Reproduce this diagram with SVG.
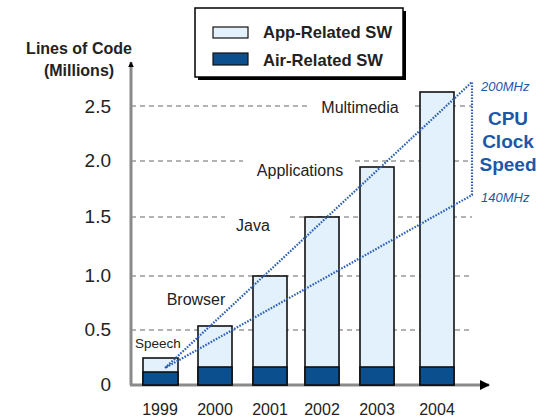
<svg xmlns="http://www.w3.org/2000/svg" width="550" height="417" viewBox="0 0 550 417">
<style>
text{font-family:"Liberation Sans",Arial,sans-serif;fill:#222}
.grid{stroke:#9a9a9a;stroke-width:1.3;stroke-dasharray:5 4;fill:none}
.app{fill:#e3f1fc;stroke:#111;stroke-width:1.6}
.air{fill:#0b4f8f;stroke:#111;stroke-width:1.6}
.tick{font-size:19px;text-anchor:end}
.yr{font-size:16px;text-anchor:middle}
.lbl{font-size:16px;text-anchor:middle}
.cpu{stroke:#2a5fb5;stroke-width:2.2;stroke-dasharray:1.6 1.4;fill:none}
.blue{fill:#1b59a8;font-weight:bold;font-size:19px;text-anchor:middle}
.mhz{fill:#1b59a8;font-style:italic;font-size:13px}
</style>
<defs>
<marker id="ah" viewBox="0 0 10 10" refX="9" refY="5" markerWidth="6" markerHeight="6" orient="auto" markerUnits="userSpaceOnUse">
<path d="M0,0 L10,5 L0,10 z" fill="#000"/>
</marker>
<marker id="ahx" viewBox="0 0 10 10" refX="9" refY="5" markerWidth="10" markerHeight="10" orient="auto" markerUnits="userSpaceOnUse">
<path d="M0,0 L10,5 L0,10 z" fill="#000"/>
</marker>
</defs>
<rect width="550" height="417" fill="#fff"/>
<g id="grid">
<path class="grid" d="M131 106H308M415 106H472"/>
<path class="grid" d="M131 161H243M355 161H472"/>
<path class="grid" d="M131 217H225M290 217H472"/>
<path class="grid" d="M131 276H472"/>
<path class="grid" d="M131 330H472"/>
</g>
<g id="axes">
<line x1="131" y1="385" x2="131" y2="62" stroke="#8a8a8a" stroke-width="3" marker-end="url(#ah)"/>
<line x1="130" y1="385" x2="489" y2="385" stroke="#8a8a8a" stroke-width="3" marker-end="url(#ahx)"/>
<text x="79" y="54" font-weight="bold" font-size="16" text-anchor="middle">Lines of Code</text>
<text x="79" y="76" font-weight="bold" font-size="16" text-anchor="middle">(Millions)</text>
<text class="tick" x="111" y="113">2.5</text>
<text class="tick" x="111" y="167">2.0</text>
<text class="tick" x="111" y="223">1.5</text>
<text class="tick" x="111" y="282">1.0</text>
<text class="tick" x="111" y="336">0.5</text>
<text class="tick" x="111" y="391">0</text>
</g>
<g id="bar1999"><rect class="app" x="143" y="358" width="35" height="27"/><rect class="air" x="143" y="372" width="35" height="13"/><text class="yr" x="160" y="415">1999</text></g>
<g id="bar2000"><rect class="app" x="198" y="326" width="34" height="59"/><rect class="air" x="198" y="367" width="34" height="18"/><text class="yr" x="215" y="415">2000</text></g>
<g id="bar2001"><rect class="app" x="253" y="276" width="34" height="109"/><rect class="air" x="253" y="367" width="34" height="18"/><text class="yr" x="270" y="415">2001</text></g>
<g id="bar2002"><rect class="app" x="305" y="217" width="34" height="168"/><rect class="air" x="305" y="367" width="34" height="18"/><text class="yr" x="322" y="415">2002</text></g>
<g id="bar2003"><rect class="app" x="360" y="167" width="34" height="218"/><rect class="air" x="360" y="367" width="34" height="18"/><text class="yr" x="377" y="415">2003</text></g>
<g id="bar2004"><rect class="app" x="420" y="92" width="34" height="293"/><rect class="air" x="420" y="367" width="34" height="18"/><text class="yr" x="437" y="415">2004</text></g>
<g id="labels">
<text x="158" y="348" font-size="13.5" text-anchor="middle">Speech</text>
<text class="lbl" x="196" y="305">Browser</text>
<text class="lbl" x="253" y="231">Java</text>
<text class="lbl" x="300" y="176">Applications</text>
<text class="lbl" x="360" y="113">Multimedia</text>
</g>
<g id="cpu">
<path class="cpu" d="M165 368L472 82L472 195L165 368"/>
<text class="mhz" x="481" y="91">200MHz</text>
<text class="mhz" x="481" y="202">140MHz</text>
<text class="blue" x="508" y="125">CPU</text>
<text class="blue" x="508" y="148">Clock</text>
<text class="blue" x="508" y="171">Speed</text>
</g>
<g id="legend">
<rect x="198" y="11" width="208" height="69" fill="#000"/>
<rect x="195" y="8" width="208" height="69" fill="#fff" stroke="#000" stroke-width="1.5"/>
<rect x="213" y="27" width="35" height="11" fill="#e3f1fc" stroke="#111" stroke-width="1.2"/>
<rect x="213" y="53" width="35" height="12" fill="#0b4f8f" stroke="#111" stroke-width="1.2"/>
<text x="263" y="38" font-weight="bold" font-size="16.6">App-Related SW</text>
<text x="263" y="66" font-weight="bold" font-size="16.6">Air-Related SW</text>
</g>
</svg>
